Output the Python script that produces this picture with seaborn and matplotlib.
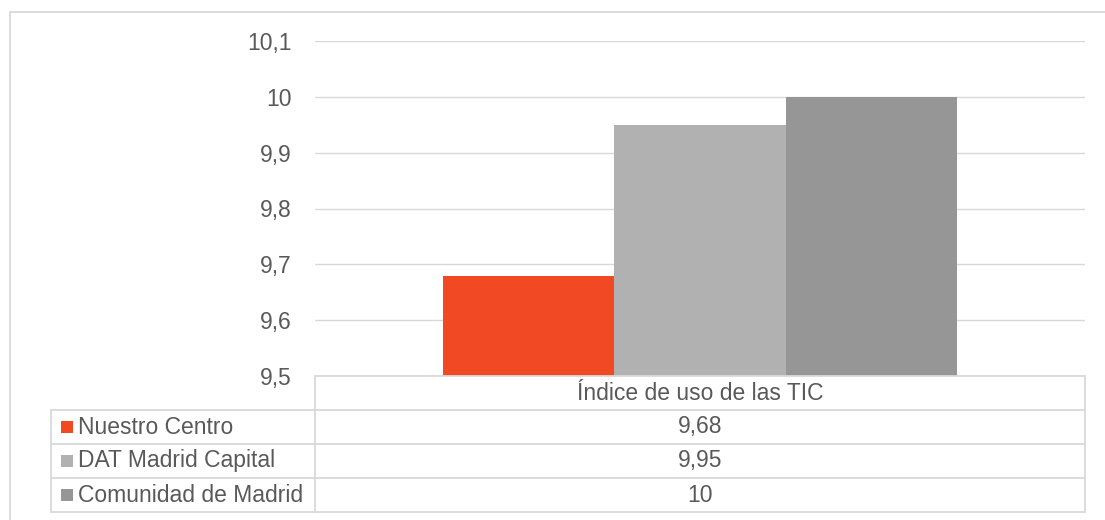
import matplotlib
matplotlib.use("Agg")
import matplotlib.pyplot as plt
from matplotlib.lines import Line2D
from matplotlib.patches import Rectangle
import pandas as pd
import seaborn as sns

# data
category = ["Índice de uso de las TIC"]
series = ["Nuestro Centro", "DAT Madrid Capital", "Comunidad de Madrid"]
values = [9.68, 9.95, 10.0]
value_labels = ["9,68", "9,95", "10"]
colors = ["#F04923", "#B1B1B1", "#969696"]
yticks = [9.5, 9.6, 9.7, 9.8, 9.9, 10.0, 10.1]
ytick_labels = ["9,5", "9,6", "9,7", "9,8", "9,9", "10", "10,1"]

sns.set_style("white")
plt.rcParams["font.family"] = ["Liberation Sans", "DejaVu Sans"]
text_col = "#595959"
line_col = "#D9D9D9"
fs = 16.5

W, H = 1105, 520
fig = plt.figure(figsize=(W / 100, H / 100), dpi=100)


def fx(px):
    return px / W


def fy(py):
    return 1 - py / H


left, right, top, bottom = 315, 1085, 41, 376
ax = fig.add_axes([fx(left), fy(bottom), fx(right - left), fy(top) - fy(bottom)])

df = pd.DataFrame({"cat": category * len(series), "serie": series, "valor": values})
sns.barplot(data=df, x="cat", y="valor", hue="serie", palette=colors,
            width=0.667, gap=0, ax=ax, legend=False, saturation=1, zorder=3,
            linewidth=0)
ax.set_ylim(9.5, 10.1)
ax.set_xlim(-0.5, 0.5)
ax.set_yticks(yticks)
ax.set_yticklabels(ytick_labels)
ax.tick_params(axis="y", length=0, pad=17, labelsize=fs, labelcolor=text_col)
ax.set_xticks([])
ax.set_xlabel("")
ax.set_ylabel("")
ax.grid(axis="y", color=line_col, linewidth=1.0, zorder=0)
for s in ax.spines.values():
    s.set_visible(False)


def hline(x0, x1, y):
    fig.add_artist(Line2D([fx(x0), fx(x1)], [fy(y), fy(y)], color=line_col, lw=1.3))


def vline(x, y0, y1):
    fig.add_artist(Line2D([fx(x), fx(x)], [fy(y0), fy(y1)], color=line_col, lw=1.3))


# outer chart border
hline(10, W + 5, 12)
vline(10, 12, H + 5)

# data table
tab_left = 51
row_h = 34
hline(left, right, bottom)
rows_top = bottom + row_h
for i in range(len(series) + 1):
    hline(tab_left, right, rows_top + i * row_h)
vline(left, bottom, rows_top + len(series) * row_h)
vline(right, bottom, rows_top + len(series) * row_h)
vline(tab_left, rows_top, rows_top + len(series) * row_h)

fig.text(fx((left + right) / 2), fy(bottom + row_h / 2), category[0],
         ha="center", va="center", fontsize=fs, color=text_col)
for i, (name, lab, c) in enumerate(zip(series, value_labels, colors)):
    yc = rows_top + i * row_h + row_h / 2
    fig.add_artist(Rectangle((fx(61), fy(yc + 6)), fx(12), fy(yc - 6) - fy(yc + 6),
                             color=c, lw=0, transform=fig.transFigure))
    fig.text(fx(78), fy(yc), name, ha="left", va="center", fontsize=fs, color=text_col)
    fig.text(fx((left + right) / 2), fy(yc), lab, ha="center", va="center",
             fontsize=fs, color=text_col)

fig.savefig("out.png", dpi=100)
